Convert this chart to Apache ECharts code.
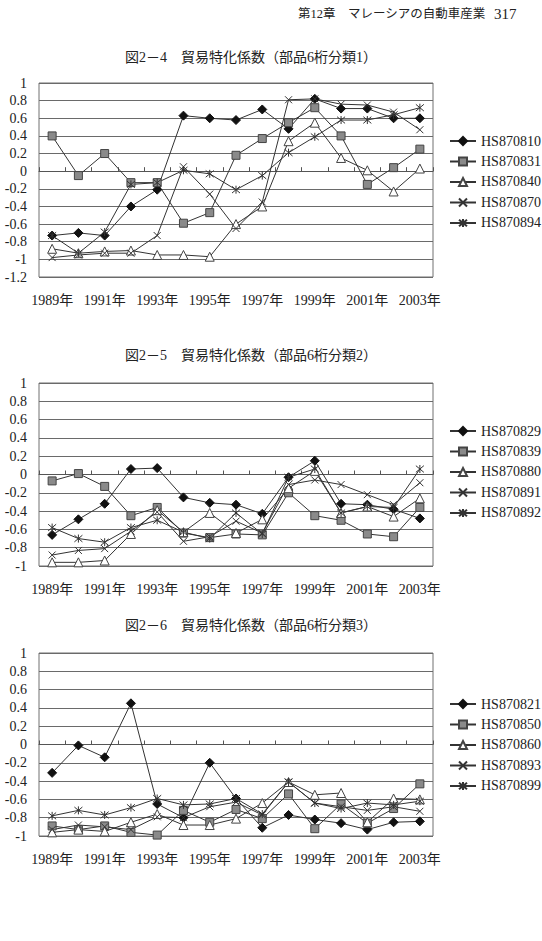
<!DOCTYPE html>
<html>
<head>
<meta charset="utf-8">
<script src="https://cdn.jsdelivr.net/npm/echarts@6/dist/echarts.min.js"></script>
<style>
html, body { margin: 0; padding: 0; background: #fff; }
#main { width: 542px; height: 941px; }
</style>
</head>
<body>
<div id="main"></div>
<script>
const years = ['1989年', '1990年', '1991年', '1992年', '1993年', '1994年', '1995年', '1996年',
    '1997年', '1998年', '1999年', '2000年', '2001年', '2002年', '2003年'];

// 図2-4 部品6桁分類1
const names1 = ['HS870810', 'HS870831', 'HS870840', 'HS870870', 'HS870894'];
const hs870810 = [-0.73, -0.70, -0.73, -0.40, -0.21, 0.63, 0.60, 0.58, 0.70, 0.48, 0.82, 0.71, 0.71, 0.60, 0.60];
const hs870831 = [0.40, -0.05, 0.20, -0.13, -0.13, -0.59, -0.47, 0.18, 0.37, 0.55, 0.72, 0.40, -0.15, 0.04, 0.25];
const hs870840 = [-0.88, -0.93, -0.91, -0.90, -0.95, -0.95, -0.97, -0.60, -0.40, 0.34, 0.55, 0.15, 0.01, -0.23, 0.03];
const hs870870 = [-0.98, -0.95, -0.93, -0.93, -0.73, 0.05, -0.26, -0.65, -0.35, 0.81, 0.82, 0.76, 0.75, 0.67, 0.47];
const hs870894 = [-0.73, -0.93, -0.69, -0.15, -0.13, 0.01, -0.03, -0.21, -0.05, 0.21, 0.39, 0.58, 0.58, 0.64, 0.72];

// 図2-5 部品6桁分類2
const names2 = ['HS870829', 'HS870839', 'HS870880', 'HS870891', 'HS870892'];
const hs870829 = [-0.66, -0.49, -0.32, 0.06, 0.07, -0.25, -0.31, -0.33, -0.43, -0.03, 0.15, -0.32, -0.33, -0.38, -0.48];
const hs870839 = [-0.07, 0.01, -0.13, -0.45, -0.36, -0.64, -0.69, -0.65, -0.66, -0.20, -0.45, -0.50, -0.65, -0.68, -0.36];
const hs870880 = [-0.96, -0.96, -0.94, -0.65, -0.39, -0.63, -0.42, -0.64, -0.49, -0.15, 0.04, -0.42, -0.35, -0.46, -0.26];
const hs870891 = [-0.88, -0.83, -0.81, -0.62, -0.41, -0.73, -0.68, -0.51, -0.64, -0.11, -0.06, -0.11, -0.22, -0.33, -0.09];
const hs870892 = [-0.58, -0.70, -0.74, -0.58, -0.50, -0.63, -0.70, -0.42, -0.65, -0.03, 0.06, -0.42, -0.35, -0.36, 0.06];

// 図2-6 部品6桁分類3
const names3 = ['HS870821', 'HS870850', 'HS870860', 'HS870893', 'HS870899'];
const hs870821 = [-0.31, -0.01, -0.14, 0.45, -0.65, -0.80, -0.20, -0.59, -0.91, -0.77, -0.82, -0.86, -0.93, -0.85, -0.84];
const hs870850 = [-0.89, -0.93, -0.89, -0.96, -0.99, -0.72, -0.85, -0.71, -0.81, -0.54, -0.92, -0.65, -0.86, -0.70, -0.43];
const hs870860 = [-0.96, -0.93, -0.95, -0.85, -0.76, -0.88, -0.88, -0.81, -0.64, -0.41, -0.55, -0.53, -0.85, -0.59, -0.60];
const hs870893 = [-0.93, -0.88, -0.90, -0.93, -0.79, -0.80, -0.68, -0.63, -0.77, -0.41, -0.64, -0.68, -0.72, -0.68, -0.73];
const hs870899 = [-0.78, -0.72, -0.77, -0.69, -0.59, -0.66, -0.65, -0.59, -0.76, -0.41, -0.64, -0.70, -0.64, -0.66, -0.62];

const titles = ['図2－4　貿易特化係数（部品6桁分類1）', '図2－5　貿易特化係数（部品6桁分類2）', '図2－6　貿易特化係数（部品6桁分類3）'];
const yMins = [-1.2, -1, -1];

const names = [names1, names2, names3];
const values = [
    [hs870810, hs870831, hs870840, hs870870, hs870894],
    [hs870829, hs870839, hs870880, hs870891, hs870892],
    [hs870821, hs870850, hs870860, hs870893, hs870899]
];

const SERIF = "'Liberation Serif', 'DejaVu Serif', 'Noto Sans CJK JP', serif";
const INK = '#333';

// grid placement for the three panels
const gridTops = [83, 383, 653];
const gridHeights = [194, 183, 183];
const titleYs = [57, 355, 625];
const legendTops = [134, 424, 697];

// marker per series position (same order in all three charts)
const marks = [
    { symbol: 'diamond', size: 9, fill: '#111', border: '#111' },
    { symbol: 'rect', size: 8, fill: '#8a8a8a', border: '#444' },
    { symbol: 'triangle', size: 9, fill: '#fff', border: '#444' },
    { symbol: 'path://M0,0L10,10M10,0L0,10', size: 7, fill: INK, border: INK },
    { symbol: 'path://M0,0L10,10M10,0L0,10M5,-1L5,11', size: 8, fill: INK, border: INK }
];

const fmt = v => String(Math.round(v * 10) / 10);

const grids = [], xAxes = [], yAxes = [], series = [], legends = [], graphics = [];

for (let i = 0; i < 3; i++) {
    grids.push({
        left: 39, width: 394, top: gridTops[i], height: gridHeights[i],
        show: true, borderColor: '#707070', borderWidth: 1, backgroundColor: '#fff'
    });
    // labels along the bottom
    xAxes.push({
        type: 'category', gridIndex: i, data: years, position: 'bottom',
        axisLine: { show: false, onZero: false },
        axisTick: { show: false },
        axisLabel: { interval: 1, margin: 16, fontSize: 14, fontFamily: SERIF, color: '#222' },
        splitLine: { show: false }
    });
    // category axis line crossing at zero, with tick marks
    xAxes.push({
        type: 'category', gridIndex: i, data: years, position: 'bottom',
        axisLine: { show: true, onZero: true, lineStyle: { color: '#555', width: 1 } },
        axisTick: { show: true, inside: true, length: 4, interval: 0, lineStyle: { color: '#555' } },
        axisLabel: { show: false },
        splitLine: { show: false }
    });
    yAxes.push({
        type: 'value', gridIndex: i, min: yMins[i], max: 1, interval: 0.2,
        axisLine: { show: false }, axisTick: { show: false },
        axisLabel: { margin: 12, fontSize: 14, fontFamily: SERIF, color: '#222', formatter: fmt },
        splitLine: { lineStyle: { color: '#6a6a6a', width: 1 } }
    });
    names[i].forEach((n, k) => {
        series.push({
            name: n, type: 'line', xAxisIndex: i * 2, yAxisIndex: i,
            data: values[i][k],
            symbol: marks[k].symbol, symbolSize: marks[k].size, showSymbol: true,
            lineStyle: { color: INK, width: 1 },
            itemStyle: { color: marks[k].fill, borderColor: marks[k].border, borderWidth: 1 },
            emphasis: { disabled: true },
            animation: false
        });
    });
    legends.push({
        data: names[i], orient: 'vertical', left: 449, top: legendTops[i], padding: 0,
        itemWidth: 26, itemHeight: 10, itemGap: 6.5, itemStyle: {},
        textStyle: { fontSize: 14, fontFamily: SERIF, color: '#222' },
        selectedMode: false
    });
    graphics.push({
        type: 'text', x: 251, y: titleYs[i],
        style: { text: titles[i], fontSize: 14, fontFamily: SERIF, fill: '#222', textAlign: 'center', textVerticalAlign: 'middle' }
    });
}

// page header
graphics.push({
    type: 'text', x: 298, y: 14,
    style: { text: '第12章　マレーシアの自動車産業', fontSize: 12.5, fontFamily: SERIF, fill: '#222', textVerticalAlign: 'middle' }
});
graphics.push({
    type: 'text', x: 494, y: 14,
    style: { text: '317', fontSize: 15, fontFamily: SERIF, fill: '#222', textVerticalAlign: 'middle' }
});

const myChart = echarts.init(document.getElementById('main'), null, { renderer: 'svg' });
myChart.setOption({
    backgroundColor: '#fff',
    animation: false,
    grid: grids,
    xAxis: xAxes,
    yAxis: yAxes,
    legend: legends,
    series: series,
    graphic: graphics
});
</script>
</body>
</html>
